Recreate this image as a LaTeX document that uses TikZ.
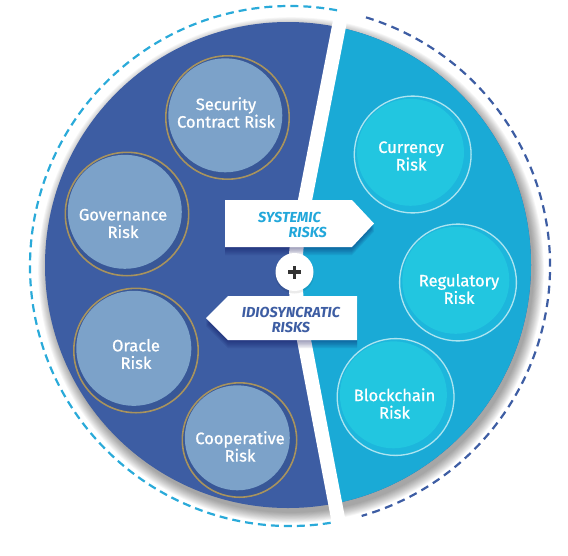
\documentclass[tikz,border=0pt]{standalone}
\usepackage{fontspec}
\setmainfont{Fira Sans}
\newfontfamily\medfont{Fira Sans}[FakeBold=0.9]
\definecolor{dkblue}{HTML}{3D5DA3}
\definecolor{dkband}{HTML}{385797}
\definecolor{ltblue}{HTML}{1AAAD6}
\definecolor{lcirc}{HTML}{7CA2C9}
\definecolor{goldring}{HTML}{A8935E}
\definecolor{rcirc}{HTML}{22C6E0}
\definecolor{rband}{HTML}{1DB6DC}
\definecolor{rline}{HTML}{AEE4F0}
\definecolor{dashlt}{HTML}{2AAAD9}
\definecolor{txtlt}{HTML}{22A7DA}
\definecolor{plusgray}{HTML}{333333}
\tikzset{
  risktext/.style={align=center,text=white,inner sep=0pt,
    font=\medfont\fontsize{16.5}{17.5}\selectfont},
  boxtext/.style={inner sep=0pt,font=\bfseries\itshape\fontsize{14.5}{15}\selectfont},
  boxshape/.style={fill=white},
  gapline/.style={white,line width=14pt,rounded corners=40pt},
}
\newcommand\LeftRisk[6]{% name, x, y, r, text position, text
  \fill[dkband] (#2,#3) circle ({#4});
  \draw[goldring,line width=1.6pt] (#2,#3) circle ({#4-0.8});
  \fill[lcirc] (#2-2.2,#3-2.2) circle ({#4-5.5});
  \node[risktext] (#1) at #5 {#6};
}
\newcommand\RightRisk[6]{%
  \fill[rband] (#2,#3) circle ({#4});
  \draw[rline,line width=1.3pt] (#2,#3) circle ({#4-0.6});
  \fill[rcirc] (#2-2.2,#3-2.2) circle ({#4-5.5});
  \node[risktext] (#1) at #5 {#6};
}
\begin{document}
\begin{tikzpicture}[x=1pt,y=-1pt]
\useasboundingbox (0,0) rectangle (568,555);
% soft shadow of the disk
\foreach \i in {1,...,12}
  \fill[black,opacity=0.035] (291,270) circle ({242+\i*0.9});
% two halves
\begin{scope}
  \clip (288,265) circle (243);
  \fill[dkblue] (0,0) rectangle (568,555);
  \fill[ltblue,rounded corners=40pt] (348,-20) -- (291,272) -- (346,560) -- (600,560) -- (600,-20) -- cycle;
\end{scope}
\draw[gapline] (348,-20) -- (291,272) -- (346,560);
% outer dashed arcs
\draw[dashlt,line width=2.2pt,dash pattern=on 8pt off 5pt]
  (290,266) ++(81:260) arc[start angle=81,end angle=281,radius=260];
\draw[dkblue,line width=2.2pt,dash pattern=on 8pt off 5.5pt]
  (290,266) ++(-73:260) arc[start angle=-73,end angle=74,radius=260];
% risk circles
\LeftRisk{sec}{227.5}{117.5}{62.5}{(226,112.5)}{Security\\Contract Risk}
\LeftRisk{gov}{127}{214}{62.5}{(123,223.5)}{Governance\\Risk}
\LeftRisk{ora}{136}{350.5}{63}{(136,354)}{Oracle\\Risk}
\LeftRisk{coop}{239.5}{440}{58}{(240,446.5)}{Cooperative\\Risk}
\RightRisk{cur}{412.7}{154.5}{59}{(411,156)}{Currency\\Risk}
\RightRisk{reg}{458}{282.5}{59}{(459,289)}{Regulatory\\Risk}
\RightRisk{blk}{395.6}{397}{59}{(394.5,403.5)}{Blockchain\\Risk}
% box shadows
\foreach \d in {2,3.5,5,6.5,8}{
  \fill[black!70!blue,opacity=0.08] (225,200+\d) -- (352,200+\d) -- (374,223.5+\d) -- (352,247+\d) -- (225,247+\d) -- cycle;
  \fill[black!70!blue,opacity=0.08] (357,296+\d) -- (228,296+\d) -- (206,318+\d) -- (228,340+\d) -- (357,340+\d) -- cycle;
}
% plus circle
\fill[black,opacity=0.08] (294.5,274) circle (19.5);
\node[circle,fill=white,minimum size=38pt,inner sep=0pt] (plus) at (294.5,272) {};
\draw[plusgray,line width=3.4pt] ([xshift=-6.5pt]plus.center) -- ([xshift=6.5pt]plus.center);
\draw[plusgray,line width=3.4pt] ([yshift=-6.5pt]plus.center) -- ([yshift=6.5pt]plus.center);
% boxes
\fill[boxshape] (225,200) -- (352,200) -- (374,223.5) -- (352,247) -- (225,247) -- cycle;
\fill[boxshape] (357,296) -- (228,296) -- (206,318) -- (228,340) -- (357,340) -- cycle;
\node[boxtext,text=txtlt,align=right,anchor=east] (sys) at (327,224.5) {SYSTEMIC\hspace*{6pt}\\RISKS};
\node[boxtext,text=dkblue,align=center] (idio) at (291,320) {IDIOSYNCRATIC\\RISKS};
\end{tikzpicture}
\end{document}
